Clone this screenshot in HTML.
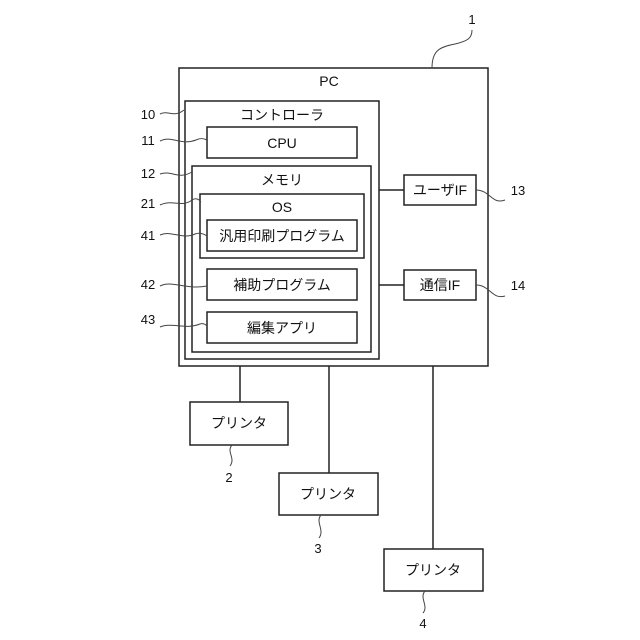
<!DOCTYPE html>
<html><head><meta charset="utf-8"><style>
html,body{margin:0;padding:0;background:#fff;}
svg{display:block;}
text{font-family:"Liberation Sans","Noto Sans CJK JP",sans-serif;fill:#111;}
</style></head><body>
<svg width="640" height="640" viewBox="0 0 640 640" xmlns="http://www.w3.org/2000/svg">
<g fill="none" stroke="#222" stroke-width="1.5">
<rect x="179" y="68" width="309" height="298"/>
<rect x="185" y="101" width="194" height="258"/>
<rect x="207" y="127" width="150" height="31"/>
<rect x="192" y="166" width="179" height="186"/>
<rect x="200" y="194" width="164" height="64"/>
<rect x="207" y="220" width="150" height="31"/>
<rect x="207" y="269" width="150" height="31"/>
<rect x="207" y="312" width="150" height="31"/>
<rect x="404" y="175" width="72" height="30"/>
<rect x="404" y="270" width="72" height="30"/>
<line x1="379" y1="190" x2="404" y2="190"/>
<line x1="379" y1="285" x2="404" y2="285"/>
<rect x="190" y="402" width="98" height="43"/>
<rect x="279" y="473" width="99" height="42"/>
<rect x="384" y="549" width="99" height="42"/>
<line x1="240" y1="366" x2="240" y2="402"/>
<line x1="329" y1="366" x2="329" y2="473"/>
<line x1="433" y1="366" x2="433" y2="549"/>
</g>
<g fill="none" stroke="#444" stroke-width="1">
<path d="M432,68 C432,50 440,47 455,44 C468,41 472,38 472,30"/>
<path d="M160,114 C168,110 174,118 184,110"/>
<path d="M160,141 C172,135 180,146 196,140 C200,138 203,138 207,140"/>
<path d="M160,174 C172,170 178,180 192,172"/>
<path d="M160,205 C172,199 182,208 192,200 C195,198 198,198 201,202"/>
<path d="M160,235 C172,230 182,240 195,234 C200,232 204,234 207,236"/>
<path d="M160,286 C172,280 185,290 207,286"/>
<path d="M160,327 C172,322 185,330 200,324 C203,323 205,324 207,326"/>
<path d="M476,190 C490,190 492,205 505,200"/>
<path d="M476,285 C490,285 492,300 505,296"/>
<path d="M232,445 C226,452 236,458 230,466"/>
<path d="M321,515 C315,522 325,530 319,538"/>
<path d="M425,591 C419,598 429,606 423,613"/>
</g>
<g font-size="14" text-anchor="middle">
<text x="329" y="86">PC</text>
<text x="282" y="120">コントローラ</text>
<text x="282" y="148">CPU</text>
<text x="282" y="185">メモリ</text>
<text x="282" y="212">OS</text>
<text x="282" y="241">汎用印刷プログラム</text>
<text x="282" y="290">補助プログラム</text>
<text x="282" y="333">編集アプリ</text>
<text x="440" y="195">ユーザIF</text>
<text x="440" y="290">通信IF</text>
<text x="239" y="428">プリンタ</text>
<text x="328" y="499">プリンタ</text>
<text x="433" y="575">プリンタ</text>
</g>
<g font-size="13" text-anchor="middle">
<text x="472" y="24">1</text>
<text x="148" y="119">10</text>
<text x="148" y="145">11</text>
<text x="148" y="178">12</text>
<text x="148" y="208">21</text>
<text x="148" y="240">41</text>
<text x="148" y="289">42</text>
<text x="148" y="324">43</text>
<text x="518" y="195">13</text>
<text x="518" y="290">14</text>
<text x="229" y="482">2</text>
<text x="318" y="553">3</text>
<text x="423" y="628">4</text>
</g>
</svg>
</body></html>
